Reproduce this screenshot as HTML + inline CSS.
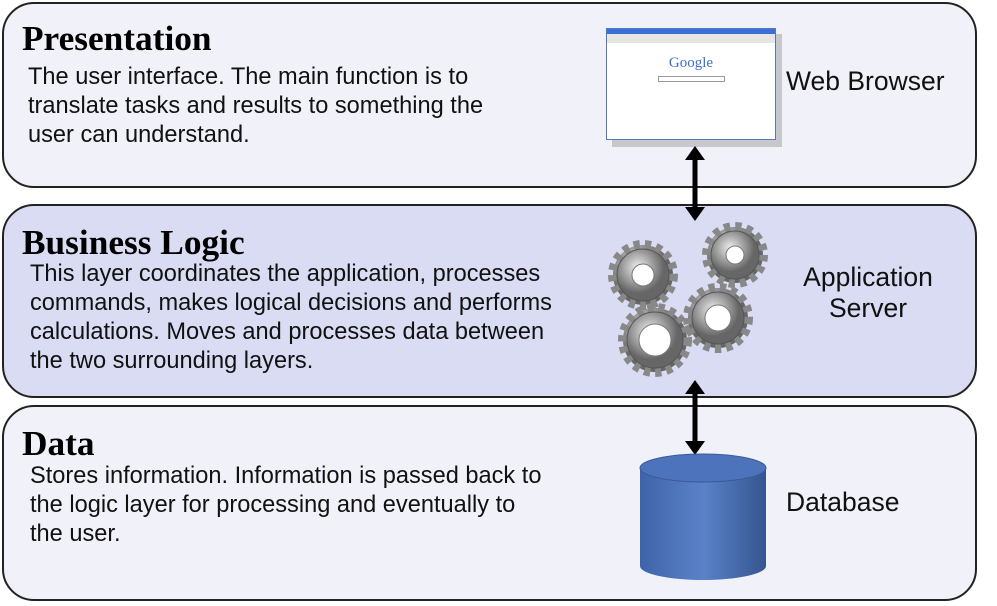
<!DOCTYPE html>
<html><head><style>
body{margin:0;width:997px;height:606px;background:#fff;position:relative;overflow:hidden;font-family:"Liberation Sans",sans-serif}
.box{position:absolute;left:2px;width:975px;border:2px solid #222;border-radius:32px;box-sizing:border-box}
.t{position:absolute;font-family:"Liberation Serif",serif;font-weight:bold;font-size:35.3px;color:#000}
.p{position:absolute;font-size:23.6px;line-height:29px;color:#111;white-space:nowrap}
.l{position:absolute;font-size:26.5px;color:#111;text-align:center;white-space:nowrap}
</style></head><body>
<div class="box" style="top:2px;height:186px;background:#f1f1fa"></div>
<div class="box" style="top:204px;height:194px;background:#d9dcf2"></div>
<div class="box" style="top:405px;height:196px;background:#f1f1fa"></div>

<div class="t" style="left:22px;top:19px">Presentation</div>
<div class="p" style="left:28px;top:63px">The user interface. The main function is to<br>translate tasks and results to something the<br>user can understand.</div>
<div class="t" style="left:22px;top:223px">Business Logic</div>
<div class="p" style="left:30px;top:260px">This layer coordinates the application, processes<br>commands, makes logical decisions and performs<br>calculations. Moves and processes data between<br>the two surrounding layers.</div>
<div class="t" style="left:22px;top:424px">Data</div>
<div class="p" style="left:30px;top:462px">Stores information. Information is passed back to<br>the logic layer for processing and eventually to<br>the user.</div>

<div class="l" style="left:786px;top:66px">Web Browser</div>
<div class="l" style="left:798px;top:262px;width:140px;line-height:31px">Application<br>Server</div>
<div class="l" style="left:786px;top:487px">Database</div>

<div style="position:absolute;left:612px;top:34px;width:170px;height:113px;background:#c8c8cc"></div>
<div style="position:absolute;left:606px;top:28px;width:168px;height:110px;background:#fff;border:1px solid #5577bb">
<div style="height:5px;background:#3a6ed8"></div><div style="height:9px;background:#e6e6e0"></div>
<div style="text-align:center;font-family:'Liberation Serif',serif;font-size:15px;color:#3b6ed0;margin-top:12px">Google</div>
<div style="margin:4px auto;width:65px;height:4px;border:1px solid #999"></div>
</div>

<svg style="position:absolute;left:0;top:0" width="997" height="606">
<defs>
<radialGradient id="g" cx="40%" cy="35%"><stop offset="0" stop-color="#eee"/><stop offset="1" stop-color="#666"/></radialGradient>
<linearGradient id="db" x1="0" x2="1"><stop offset="0" stop-color="#3f63a8"/><stop offset=".5" stop-color="#5b82c8"/><stop offset="1" stop-color="#34558f"/></linearGradient></defs>
<line x1="695" y1="158" x2="695" y2="210" stroke="#000" stroke-width="5"/>
<path d="M685,160L695,146L705,160z M685,207L695,221L705,207z" fill="#000"/>
<line x1="695" y1="390" x2="695" y2="445" stroke="#000" stroke-width="5"/>
<path d="M685,394L695,380L705,394z M685,441L695,455L705,441z" fill="#000"/>
<g fill="url(#g)" stroke="#555" stroke-width="1">
<circle cx="643" cy="275" r="30" stroke-dasharray="6 5" stroke-width="10" stroke="#888"/><circle cx="643" cy="275" r="26"/><circle cx="643" cy="275" r="11" fill="#fff" stroke="#777"/>
<circle cx="735" cy="255" r="28" stroke-dasharray="6 5" stroke-width="10" stroke="#888"/><circle cx="735" cy="255" r="24"/><circle cx="735" cy="255" r="9" fill="#fff" stroke="#777"/>
<circle cx="718" cy="318" r="30" stroke-dasharray="6 5" stroke-width="10" stroke="#888"/><circle cx="718" cy="318" r="26"/><circle cx="718" cy="318" r="13" fill="#fff" stroke="#777"/>
<circle cx="655" cy="340" r="32" stroke-dasharray="6 5" stroke-width="10" stroke="#888"/><circle cx="655" cy="340" r="28"/><circle cx="655" cy="340" r="16" fill="#fff" stroke="#777"/>
</g>
<path d="M640,468L640,566A63,14 0 0 0 766,566L766,468z" fill="url(#db)"/>
<ellipse cx="703" cy="468" rx="63" ry="14" fill="#4d73bd" stroke="#3a5a99"/>
</svg>
</body></html>
